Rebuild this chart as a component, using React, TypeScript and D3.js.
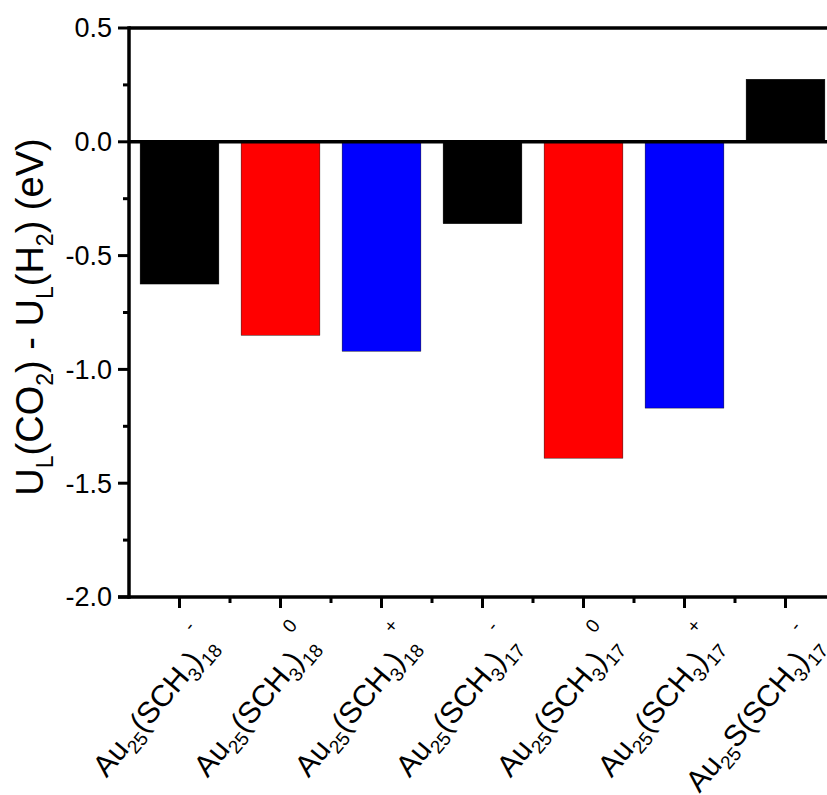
import React from 'react';
import * as d3 from 'd3';

// categories and their label pieces (sub = subscript)
const clusters = ['Au25(SCH3)18-', 'Au25(SCH3)180', 'Au25(SCH3)18+', 'Au25(SCH3)17-', 'Au25(SCH3)170', 'Au25(SCH3)17+', 'Au25S(SCH3)17-'];
const coreParts = [
  ['Au', '25', '(SCH', '3', ')', '18'],
  ['Au', '25', '(SCH', '3', ')', '18'],
  ['Au', '25', '(SCH', '3', ')', '18'],
  ['Au', '25', '(SCH', '3', ')', '17'],
  ['Au', '25', '(SCH', '3', ')', '17'],
  ['Au', '25', '(SCH', '3', ')', '17'],
  ['Au', '25', 'S(SCH', '3', ')', '17'],
];
const charges = ['-', '0', '+', '-', '0', '+', '-'];
const deltaU = [-0.625, -0.85, -0.92, -0.36, -1.39, -1.17, 0.275];
const barColors = ['#000000', '#ff0000', '#0000ff', '#000000', '#ff0000', '#0000ff', '#000000'];
const yTicks = [0.5, 0.0, -0.5, -1.0, -1.5, -2.0];
const yMinor = [0.25, -0.25, -0.75, -1.25, -1.75];

const W = 827;
const H = 795;
const font = '"Liberation Sans", Arial, Helvetica, sans-serif';

// Arial / Liberation Sans advance widths (per 1000 em)
const AW: Record<string, number> = {
  A: 667, u: 556, S: 667, C: 722, H: 722, '(': 333, ')': 333,
  '0': 556, '1': 556, '2': 556, '3': 556, '5': 556, '7': 556, '8': 556,
};
const textW = (s: string, size: number) =>
  s.split('').reduce((a, ch) => a + (AW[ch] ?? 556), 0) * size / 1000;

const labelSize = 30;
const subSize = 19;
const angle = -50;

export default function App() {
  const left = 129;
  const top = 28;
  const bottom = 597;

  const x = d3.scaleBand<string>()
    .domain(clusters)
    .range([left, left + 101 * 7])
    .paddingInner(0.22)
    .paddingOuter(0.11);

  const y = d3.scaleLinear()
    .domain([-2, 0.5])
    .range([bottom, top]);

  const step = x.step();
  const centers = clusters.map(c => (x(c) as number) + x.bandwidth() / 2);
  const minorX = clusters.map((c, i) => centers[i] + step / 2);

  return (
    <svg width={W} height={H} style={{ position: 'absolute', left: 0, top: 0, background: '#fff' }}>
      {/* bars */}
      {clusters.map((c, i) => (
        <rect
          key={c}
          x={x(c)}
          y={Math.min(y(0), y(deltaU[i]))}
          width={x.bandwidth()}
          height={Math.abs(y(deltaU[i]) - y(0))}
          fill={barColors[i]}
          stroke="#000"
          strokeWidth={0.4}
        />
      ))}

      {/* zero line and frame */}
      <line x1={left} x2={W + 20} y1={y(0)} y2={y(0)} stroke="#000" strokeWidth={3.5} />
      <line x1={left} x2={W + 20} y1={top} y2={top} stroke="#000" strokeWidth={3.5} />
      <line x1={left - 11} x2={W + 20} y1={bottom} y2={bottom} stroke="#000" strokeWidth={3.5} />
      <line x1={left} x2={left} y1={top - 1.75} y2={bottom + 1.75} stroke="#000" strokeWidth={3.5} />

      {/* y ticks */}
      {yTicks.map(t => (
        <g key={t}>
          <line x1={left - 11} x2={left} y1={y(t)} y2={y(t)} stroke="#000" strokeWidth={3} />
          <text x={112} y={y(t)} dy="0.35em" textAnchor="end" fontFamily={font} fontSize={27}>
            {t.toFixed(1)}
          </text>
        </g>
      ))}
      {yMinor.map(t => (
        <line key={t} x1={left - 6} x2={left} y1={y(t)} y2={y(t)} stroke="#000" strokeWidth={3} />
      ))}

      {/* x ticks */}
      {centers.map((cx, i) => (
        <line key={'M' + i} x1={cx} x2={cx} y1={bottom} y2={bottom + 11} stroke="#000" strokeWidth={3} />
      ))}
      {minorX.map((mx, i) => (
        <line key={'m' + i} x1={mx} x2={mx} y1={bottom} y2={bottom + 6} stroke="#000" strokeWidth={3} />
      ))}

      {/* x labels: each piece its own text so the rotation holds */}
      {centers.map((cx, i) => {
        const parts = coreParts[i];
        const sizes = parts.map((_, k) => (k % 2 === 1 ? subSize : labelSize));
        const widths = parts.map((p, k) => textW(p, sizes[k]));
        const total = widths.reduce((a, b) => a + b, 0);
        let pos = -total;
        const tr = `translate(${cx + 38},${bottom + 49}) rotate(${angle})`;
        return (
          <g key={'l' + i} transform={tr}>
            {parts.map((p, k) => {
              const el = (
                <text key={k} x={pos} y={k % 2 === 1 ? 7.5 : 0} fontFamily={font} fontSize={sizes[k]}>
                  {p}
                </text>
              );
              pos += widths[k];
              return el;
            })}
            <text x={-3} y={-35} textAnchor="middle" dominantBaseline="central" fontFamily={font} fontSize={19}>
              {charges[i]}
            </text>
          </g>
        );
      })}

      {/* y title */}
      <text transform={`translate(43,${317}) rotate(-90)`} textAnchor="middle" fontFamily={font} fontSize={38}>
        <tspan>U</tspan>
        <tspan fontSize={23} dy={10}>L</tspan>
        <tspan dy={-10}>(CO</tspan>
        <tspan fontSize={23} dy={10}>2</tspan>
        <tspan dy={-10}>) - U</tspan>
        <tspan fontSize={23} dy={10}>L</tspan>
        <tspan dy={-10}>(H</tspan>
        <tspan fontSize={23} dy={10}>2</tspan>
        <tspan dy={-10}>) (eV)</tspan>
      </text>
    </svg>
  );
}
